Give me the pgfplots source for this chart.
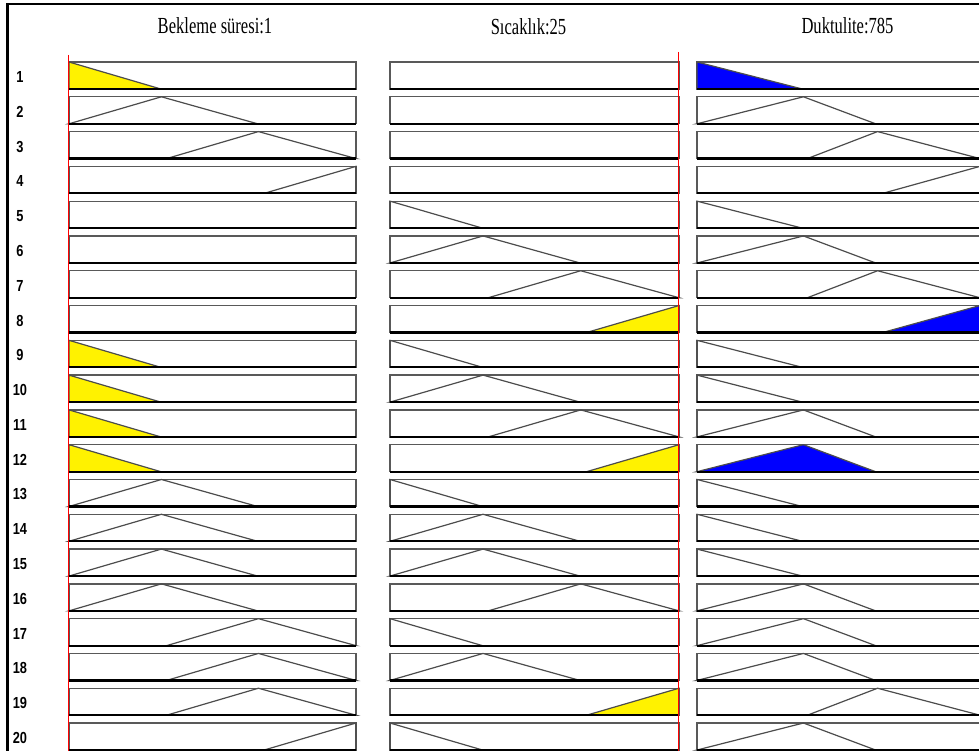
\documentclass[border=0pt]{standalone}
\usepackage{pgfplots}
\pgfplotsset{compat=1.18}
\usepackage{fontspec}
\usepackage{graphicx}
\newfontfamily\titlefont{Liberation Serif}
\newfontfamily\labfont{Liberation Sans}
\pgfplotsset{
  mfaxis/.style={scale only axis, width=#1, height=27pt,
    xmin=0, xmax=1, ymin=0, ymax=1, xtick=\empty, ytick=\empty,
    axis line style={draw=black!65, line width=1.3pt},
    anchor=north west, clip=false,
    every axis plot/.append style={no markers}},
  mf/.style={draw=black!70, line width=1.2pt}
}
\newcommand\mfshape[2]{%
\ifcase#1\relax
\or\addplot[mf,fill=#2] coordinates {(0,1)(0.32,0)} \closedcycle;
\or\addplot[mf,fill=#2] coordinates {(0,0)(0.322,1)(0.657,0)} \closedcycle;
\or\addplot[mf,fill=#2] coordinates {(0.34,0)(0.66,1)(1,0)} \closedcycle;
\or\addplot[mf,fill=#2] coordinates {(0.68,0)(1,1)} \closedcycle;
\or\addplot[mf,fill=#2] coordinates {(0,1)(0.372,0)} \closedcycle;
\or\addplot[mf,fill=#2] coordinates {(0,0)(0.376,1)(0.631,0)} \closedcycle;
\or\addplot[mf,fill=#2] coordinates {(0.39,0)(0.638,1)(1,0)} \closedcycle;
\or\addplot[mf,fill=#2] coordinates {(0.656,0)(1,1)} \closedcycle;
\fi}
\newcommand\mfcolumn[4]{%
\foreach \s/\f [count=\r] in {#4} {
  \pgfmathsetmacro\yt{-62-(\r-1)*34.79}
  \ifnum\f=1 \def\fc{#3}\else\def\fc{none}\fi
  \begin{axis}[mfaxis=#2, at={(#1pt,\yt pt)}]
    \mfshape{\s}{\fc}
    \addplot[black, line width=2.2pt] coordinates {(0,0)(1,0)};
  \end{axis}
}}
\begin{document}
\begin{tikzpicture}
\useasboundingbox (0,0) rectangle (979pt,-751pt);
% Bekleme suresi
\mfcolumn{69}{287pt}{yellow}{1/1,2/0,3/0,4/0,0/0,0/0,0/0,0/0,1/1,1/1,1/1,1/1,2/0,2/0,2/0,2/0,3/0,3/0,3/0,4/0}
% Sicaklik
\mfcolumn{390}{289pt}{yellow}{0/0,0/0,0/0,0/0,1/0,2/0,3/0,4/1,1/0,2/0,3/0,4/1,1/0,2/0,2/0,3/0,1/0,2/0,4/1,1/0}
% Duktulite
\mfcolumn{697}{283pt}{blue}{5/1,6/0,7/0,8/0,5/0,6/0,7/0,8/1,5/0,5/0,6/0,6/1,5/0,5/0,5/0,6/0,6/0,6/0,7/0,6/0}
% red input lines
\draw[red, line width=1pt] (68.5pt,-55pt) -- (68.5pt,-751pt);
\draw[red, line width=1pt] (678.5pt,-52pt) -- (678.5pt,-751pt);
% frame
\draw[black, line width=2.5pt] (7.5pt,-751pt) -- (7.5pt,-4pt) -- (979pt,-4pt);
% titles
\node[anchor=base, inner sep=0pt] at (215pt,-34pt) {\titlefont\fontsize{23}{24}\selectfont\scalebox{0.72}[1]{Bekleme süresi:1}};
\node[anchor=base, inner sep=0pt] at (528.5pt,-35pt) {\titlefont\fontsize{23}{24}\selectfont\scalebox{0.72}[1]{Sıcaklık:25}};
\node[anchor=base, inner sep=0pt] at (847.5pt,-34pt) {\titlefont\fontsize{23}{24}\selectfont\scalebox{0.72}[1]{Duktulite:785}};
% rule numbers
\foreach \r in {1,...,20} {
  \pgfmathsetmacro\yc{-77-(\r-1)*34.79}
  \node[inner sep=0pt, text=black] at (20pt,\yc pt) {\labfont\bfseries\fontsize{16}{16}\selectfont\scalebox{0.8}[1]{\r}};
}
\end{tikzpicture}
\end{document}
